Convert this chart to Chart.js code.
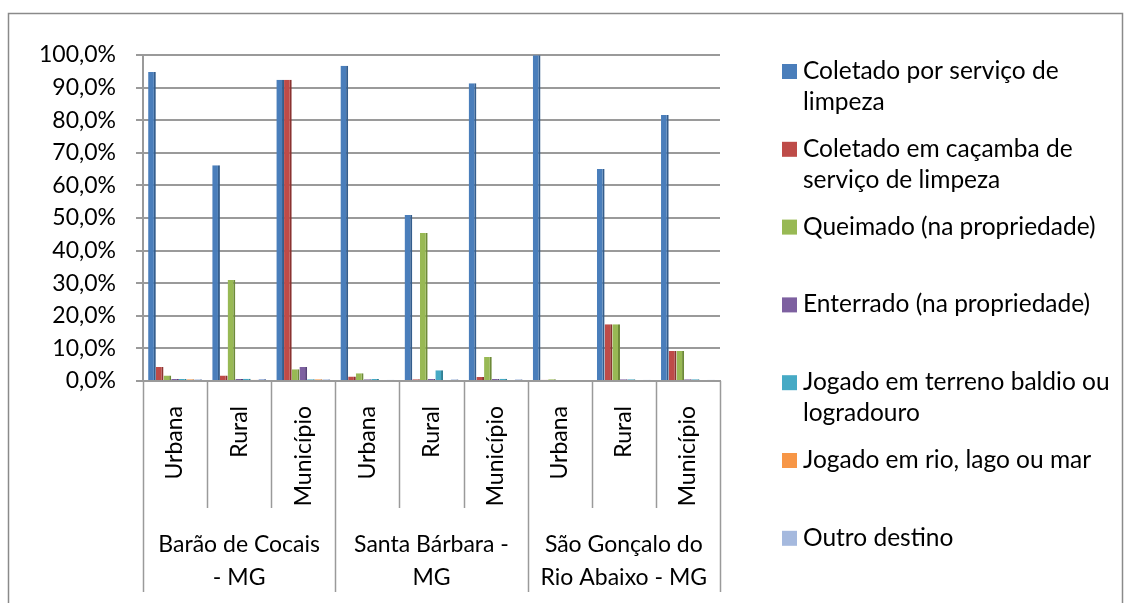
<!DOCTYPE html>
<html>
<head>
<meta charset="utf-8">
<script src="https://cdn.jsdelivr.net/npm/chart.js@4.4.1/dist/chart.umd.min.js"></script>
<style>
    body { margin: 0; background: #fff; }
    #wrap { width: 1131px; height: 603px; }
</style>
</head>
<body>
<div id="wrap"><canvas id="destino-chart" width="1131" height="603"></canvas></div>
<script>
const CATEGORIES = ['Urbana', 'Rural', 'Município', 'Urbana', 'Rural', 'Município', 'Urbana', 'Rural', 'Município']
const GROUP_LABELS = [['Barão de Cocais', '- MG'], ['Santa Bárbara -', 'MG'], ['São Gonçalo do', 'Rio Abaixo - MG']]
const Y_TICKS = [0, 10, 20, 30, 40, 50, 60, 70, 80, 90, 100]

const SERIES_NAMES = [
    'Coletado por serviço de limpeza',
    'Coletado em caçamba de serviço de limpeza',
    'Queimado (na propriedade)',
    'Enterrado (na propriedade)',
    'Jogado em terreno baldio ou logradouro',
    'Jogado em rio, lago ou mar',
    'Outro destino'
]

// % de domicílios por destino do lixo
const coletadoServico = [94.8, 66.2, 92.4, 96.7, 50.9, 91.3, 99.9, 65.0, 81.6]
const coletadoCacamba = [4.3, 1.7, 92.4, 1.4, 0.5, 1.2, 0.4, 17.4, 9.2]
const queimado = [1.7, 31.0, 3.6, 2.4, 45.4, 7.4, 0.5, 17.4, 9.2]
const enterrado = [0.6, 0.6, 4.3, 0.5, 0.6, 0.6, 0.0, 0.5, 0.5]
const terrenoBaldio = [0.6, 0.7, 0.5, 0.6, 3.3, 0.7, 0.0, 0.5, 0.5]
const rioLagoMar = [0.5, 0.4, 0.5, 0.3, 0.3, 0.3, 0.0, 0.3, 0.3]
const outroDestino = [0.5, 0.6, 0.5, 0.4, 0.5, 0.5, 0.0, 0.4, 0.4]

const SERIES_VALUES = [coletadoServico, coletadoCacamba, queimado, enterrado, terrenoBaldio, rioLagoMar, outroDestino]
const FILL = ['#4A7EBB', '#BE4B48', '#98B954', '#7D60A0', '#46AAC5', '#F79646', '#A5B9DE']
const SIDE = ['#345d8c', '#8a3331', '#6d8a38', '#584279', '#2f7f94', '#b86c2c', '#7b8fb6']

const FONT = 'Lato'
const AXIS_GRAY = '#9a9a9a'

function pct(v) {
    return v.toFixed(1).replace('.', ',') + '%'
}

function wrapText(ctx, text, maxWidth) {
    const words = text.split(' ')
    const lines = []
    let line = ''
    words.forEach(w => {
        const test = line ? line + ' ' + w : w
        if (ctx.measureText(test).width > maxWidth && line) {
            lines.push(line)
            line = w
        } else {
            line = test
        }
    })
    lines.push(line)
    return lines
}

// moldura, divisórias do eixo x, nomes dos municípios e legenda
const decorations = {
    id: 'decorations',
    beforeDraw(chart) {
        const ctx = chart.ctx
        ctx.save()
        ctx.strokeStyle = '#8a8a8a'
        ctx.lineWidth = 1.5
        ctx.strokeRect(8.5, 13.5, 1114, 620)
        ctx.restore()
    },
    afterDraw(chart) {
        const ctx = chart.ctx
        const x = chart.scales.x
        const area = chart.chartArea
        const step = (x.getPixelForValue(1) - x.getPixelForValue(0))

        ctx.save()
        ctx.strokeStyle = AXIS_GRAY
        ctx.lineWidth = 1.5
        for (let i = 0; i <= CATEGORIES.length; i++) {
            const px = Math.round(x.getPixelForValue(i) - step / 2) + 0.5
            const bottom = i % 3 === 0 ? 592 : 508
            ctx.beginPath()
            ctx.moveTo(px, area.bottom)
            ctx.lineTo(px, bottom)
            ctx.stroke()
        }

        ctx.fillStyle = '#000'
        ctx.font = `23px ${FONT}`
        ctx.textAlign = 'center'
        ctx.textBaseline = 'middle'
        GROUP_LABELS.forEach((lines, g) => {
            const cx = x.getPixelForValue(g * 3 + 1)
            lines.forEach((l, k) => ctx.fillText(l, cx, 545 + k * 33))
        })

        // legenda
        ctx.font = `24.5px ${FONT}`
        ctx.textAlign = 'left'
        chart.data.datasets.forEach((ds, i) => {
            const y = 71 + i * 77.8
            ctx.fillStyle = FILL[i]
            ctx.fillRect(782, y - 7, 15, 15)
            ctx.fillStyle = '#000'
            wrapText(ctx, ds.label, 322).forEach((l, k) => ctx.fillText(l, 803, y + k * 31))
        })
        ctx.restore()
    }
}

function drawChart() {
    const ctx = document.querySelector('#destino-chart')
    new Chart(ctx, {
        type: 'bar',
        data: {
            labels: CATEGORIES,
            datasets: SERIES_VALUES.map((values, i) => ({
                label: SERIES_NAMES[i],
                data: values,
                backgroundColor: FILL[i],
                borderColor: SIDE[i],
                borderWidth: { left: 0, top: 0, bottom: 0, right: 2 },
                borderSkipped: false,
                barPercentage: 1,
                categoryPercentage: 0.84
            }))
        },
        options: {
            responsive: false,
            animation: false,
            layout: { padding: { left: 0, right: 411, top: 55, bottom: 0 } },
            plugins: {
                legend: { display: false },
                tooltip: { enabled: false }
            },
            scales: {
                x: {
                    grid: { display: false },
                    border: { display: true, color: AXIS_GRAY, width: 2 },
                    ticks: {
                        autoSkip: false,
                        minRotation: 90,
                        maxRotation: 90,
                        padding: 17,
                        color: '#000',
                        font: { family: FONT, size: 23 }
                    },
                    afterFit: scale => { scale.height = 222 }
                },
                y: {
                    min: 0,
                    max: 100,
                    afterBuildTicks: scale => { scale.ticks = Y_TICKS.map(v => ({ value: v })) },
                    ticks: {
                        padding: 20,
                        color: '#000',
                        font: { family: FONT, size: 23 },
                        callback: v => pct(v)
                    },
                    grid: { color: AXIS_GRAY, lineWidth: 2, tickLength: 7 },
                    border: { color: AXIS_GRAY, width: 2 },
                    afterFit: scale => { scale.width = 143 }
                }
            }
        },
        plugins: [decorations]
    })
}

document.fonts.load(`23px ${FONT}`).then(drawChart, drawChart)
</script>
</body>
</html>
